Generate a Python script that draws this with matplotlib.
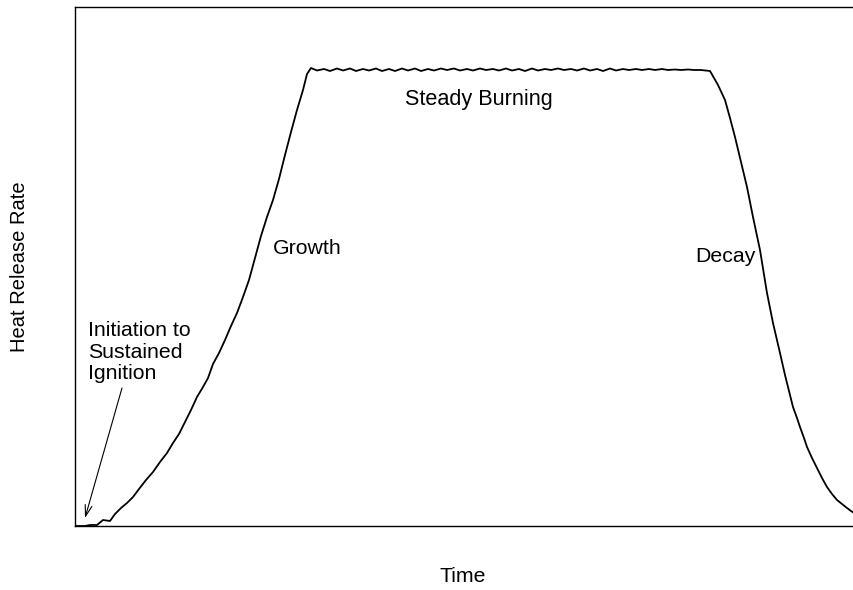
import matplotlib
matplotlib.use("Agg")
import matplotlib.pyplot as plt
import numpy as np

plt.rcParams["font.family"] = ["Liberation Sans", "DejaVu Sans"]

# time / heat release rate (arbitrary units)
growth_t = [0, 10, 15, 18, 22, 28, 35, 40, 46, 52, 58, 64, 71, 78, 85, 92, 98,
            104, 110, 116, 122, 128, 133, 138, 144, 150, 156, 162, 168, 174,
            180, 186, 192, 198, 204, 210, 216, 222, 228, 232, 236]
growth_q = [0, 0, 1, 1, 1, 6, 5, 12, 18, 23, 29, 37, 46, 54, 64, 73, 83,
            92, 104, 116, 129, 139, 148, 162, 173, 186, 200, 213, 229, 246,
            268, 290, 309, 326, 347, 371, 394, 416, 436, 452, 458]

plateau_t = [242, 249, 255, 262, 268, 275, 281, 288, 294, 301, 307, 314, 320,
             327, 333, 340, 346, 353, 359, 366, 372, 379, 385, 392, 398, 405,
             411, 418, 424, 431, 437, 444, 450, 457, 463, 470, 476, 483, 489,
             496, 502, 509, 515, 522, 528, 535, 541, 548, 554, 561, 567, 574,
             580, 587, 593, 600, 606, 613, 619, 626, 635]
plateau_q = [455.5, 457, 455, 457.5, 455.5, 457.5, 455, 457, 455.5, 457.5, 455,
             457, 455, 457.5, 455.5, 457.5, 455, 457, 455.5, 457.5, 456, 457.5,
             455.5, 457, 455.5, 457.5, 456, 457, 455.5, 457.5, 455.5, 457, 455,
             457.5, 455.5, 457, 456, 457.5, 456, 457, 455.5, 457.5, 455.5, 457,
             455, 457.5, 455.5, 457, 456, 457, 456, 457, 456, 457, 456, 456.5,
             456, 456.5, 456, 456, 455]

decay_t = [643, 650, 655, 660, 666, 672, 678, 685, 692, 698, 705, 710, 715,
           718, 722, 725, 729, 732, 737, 742, 747, 752, 757, 762, 767, 772,
           776, 779]
decay_q = [441, 426, 408, 389, 364, 339, 309, 276, 233, 203, 173, 151, 131,
           119, 108, 99, 88, 79, 68, 58, 48, 39, 32, 26, 22, 18, 15, 13]

time = np.array(growth_t + plateau_t + decay_t)
hrr = np.array(growth_q + plateau_q + decay_q)

fig = plt.figure(figsize=(8.54, 5.90), dpi=100)
ax = fig.add_axes([75 / 854, 64 / 590, 779 / 854, 519 / 590])

ax.plot(time, hrr, color="black", lw=1.3)
ax.set_xlim(0, 779)
ax.set_ylim(0, 519)
ax.set_xticks([])
ax.set_yticks([])
ax.spines["right"].set_visible(False)
for s in ["left", "top", "bottom"]:
    ax.spines[s].set_linewidth(1.0)

fs = 15.3
ax.text(330, 426, "Steady Burning", fontsize=15.6, va="center", ha="left")
ax.text(198, 277, "Growth", fontsize=fs, va="center", ha="left")
ax.text(620, 269, "Decay", fontsize=fs, va="center", ha="left")
ax.text(13, 205, "Initiation to\nSustained\nIgnition", fontsize=fs,
        va="top", ha="left", linespacing=1.17)
ax.annotate("", xy=(10, 8), xytext=(47, 138),
            arrowprops=dict(arrowstyle="->,head_length=0.8,head_width=0.25",
                            lw=0.8, color="black", shrinkA=0, shrinkB=0))

fig.text(463 / 854, 1 - 577 / 590, "Time", fontsize=fs, ha="center", va="center")
fig.text(20 / 854, 1 - 267 / 590, "Heat Release Rate", fontsize=14.5,
         ha="center", va="center", rotation=90)

fig.savefig("out.png", dpi=100)
